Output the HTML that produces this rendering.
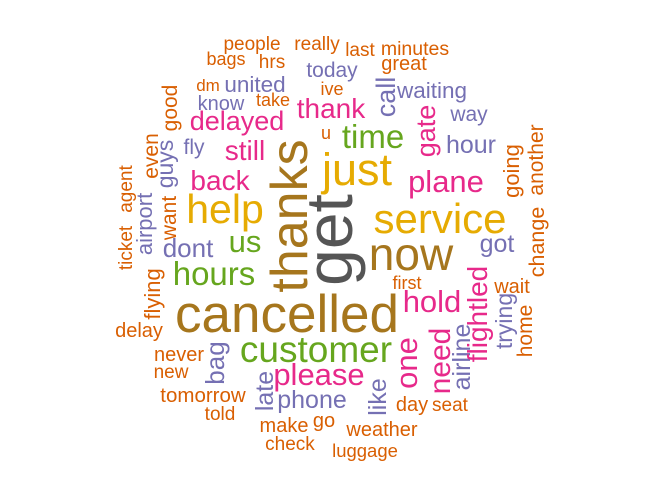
<!DOCTYPE html>
<html><head><meta charset="utf-8"><style>
html,body{margin:0;padding:0;background:#fff;}
svg{display:block;}
text{font-family:"Liberation Sans",Arial,sans-serif;}
.o{fill:#D95F02}.p{fill:#7570B3}.k{fill:#E7298A}.g{fill:#66A61E}.y{fill:#E6AB02}.b{fill:#A6761D}.d{fill:#555555}
</style></head><body>
<svg width="672" height="480" viewBox="0 0 672 480" text-anchor="middle">
<g>
<text class="o" x="252" y="50" font-size="19">people</text>
<text class="o" x="317" y="50" font-size="19">really</text>
<text class="o" x="360" y="56" font-size="19">last</text>
<text class="o" x="415" y="55" font-size="19.5">minutes</text>
<text class="o" x="226" y="65" font-size="18">bags</text>
<text class="o" x="272" y="68" font-size="19">hrs</text>
<text class="p" x="332" y="77" font-size="21">today</text>
<text class="o" x="404" y="70" font-size="20">great</text>
<text class="o" x="208" y="91" font-size="17">dm</text>
<text class="p" x="255" y="92" font-size="22.5">united</text>
<text class="o" x="332" y="95" font-size="18">ive</text>
<text class="p" x="432" y="98" font-size="22.5">waiting</text>
<text class="p" x="221" y="110" font-size="20">know</text>
<text class="o" x="273" y="106" font-size="18">take</text>
<text class="k" x="331" y="118" font-size="28">thank</text>
<text class="k" x="237" y="130" font-size="27">delayed</text>
<text class="p" x="469" y="121" font-size="21">way</text>
<text class="g" x="373" y="148" font-size="33">time</text>
<text class="o" x="326" y="139" font-size="18">u</text>
<text class="p" x="194" y="154" font-size="21">fly</text>
<text class="k" x="245" y="160" font-size="28">still</text>
<text class="p" x="471" y="153" font-size="25">hour</text>
<text class="y" x="357" y="185" font-size="45">just</text>
<text class="k" x="220" y="190" font-size="28">back</text>
<text class="k" x="446" y="192" font-size="31">plane</text>
<text class="y" x="225" y="223" font-size="41">help</text>
<text class="y" x="440" y="233" font-size="42">service</text>
<text class="p" x="188" y="257" font-size="26">dont</text>
<text class="g" x="245" y="252" font-size="31">us</text>
<text class="b" x="411" y="270" font-size="46">now</text>
<text class="p" x="497" y="252" font-size="25">got</text>
<text class="g" x="214" y="285" font-size="33">hours</text>
<text class="o" x="407" y="289" font-size="18">first</text>
<text class="o" x="512" y="293" font-size="20">wait</text>
<text class="k" x="432" y="312" font-size="31">hold</text>
<text class="b" x="287" y="332" font-size="53">cancelled</text>
<text class="o" x="139" y="337" font-size="20">delay</text>
<text class="g" x="316" y="362" font-size="37">customer</text>
<text class="o" x="179" y="361" font-size="20">never</text>
<text class="o" x="171" y="378" font-size="19">new</text>
<text class="k" x="319" y="385" font-size="31">please</text>
<text class="o" x="203" y="402" font-size="20.5">tomorrow</text>
<text class="o" x="220" y="420" font-size="19">told</text>
<text class="p" x="312" y="408" font-size="25">phone</text>
<text class="o" x="412" y="411" font-size="20">day</text>
<text class="o" x="450" y="411" font-size="19">seat</text>
<text class="o" x="284" y="432" font-size="20">make</text>
<text class="o" x="324" y="427" font-size="20">go</text>
<text class="o" x="382" y="436" font-size="20">weather</text>
<text class="o" x="290" y="450" font-size="19">check</text>
<text class="o" x="365" y="457" font-size="18.5">luggage</text>
</g>
<g>
<text class="b" transform="translate(307,216) rotate(-90)" font-size="52">thanks</text>
<text class="d" transform="translate(352,240) rotate(-90)" font-size="66">get</text>
<text class="p" transform="translate(395,97) rotate(-90)" font-size="27">call</text>
<text class="k" transform="translate(435,131) rotate(-90)" font-size="27">gate</text>
<text class="o" transform="translate(177,108) rotate(-90)" font-size="21">good</text>
<text class="o" transform="translate(158,156) rotate(-90)" font-size="21">even</text>
<text class="p" transform="translate(173,164) rotate(-90)" font-size="23">guys</text>
<text class="o" transform="translate(132,189) rotate(-90)" font-size="19">agent</text>
<text class="o" transform="translate(132,248) rotate(-90)" font-size="19">ticket</text>
<text class="p" transform="translate(152,224) rotate(-90)" font-size="22">airport</text>
<text class="o" transform="translate(176,218) rotate(-90)" font-size="21">want</text>
<text class="o" transform="translate(160,294) rotate(-90)" font-size="22">flying</text>
<text class="p" transform="translate(224,363) rotate(-90)" font-size="26">bag</text>
<text class="p" transform="translate(273,391) rotate(-90)" font-size="25">late</text>
<text class="p" transform="translate(386,397) rotate(-90)" font-size="25">like</text>
<text class="k" transform="translate(417,363) rotate(-90)" font-size="31">one</text>
<text class="k" transform="translate(450,361) rotate(-90)" font-size="30">need</text>
<text class="p" transform="translate(470,357) rotate(-90)" font-size="25">airline</text>
<text class="k" transform="translate(487,314) rotate(-90)" font-size="28">flightled</text>
<text class="p" transform="translate(512,321) rotate(-90)" font-size="23">trying</text>
<text class="o" transform="translate(532,331) rotate(-90)" font-size="21">home</text>
<text class="o" transform="translate(544,242) rotate(-90)" font-size="21.5">change</text>
<text class="o" transform="translate(519,171) rotate(-90)" font-size="22">going</text>
<text class="o" transform="translate(543,160) rotate(-90)" font-size="21">another</text>
</g>
</svg>
</body></html>
